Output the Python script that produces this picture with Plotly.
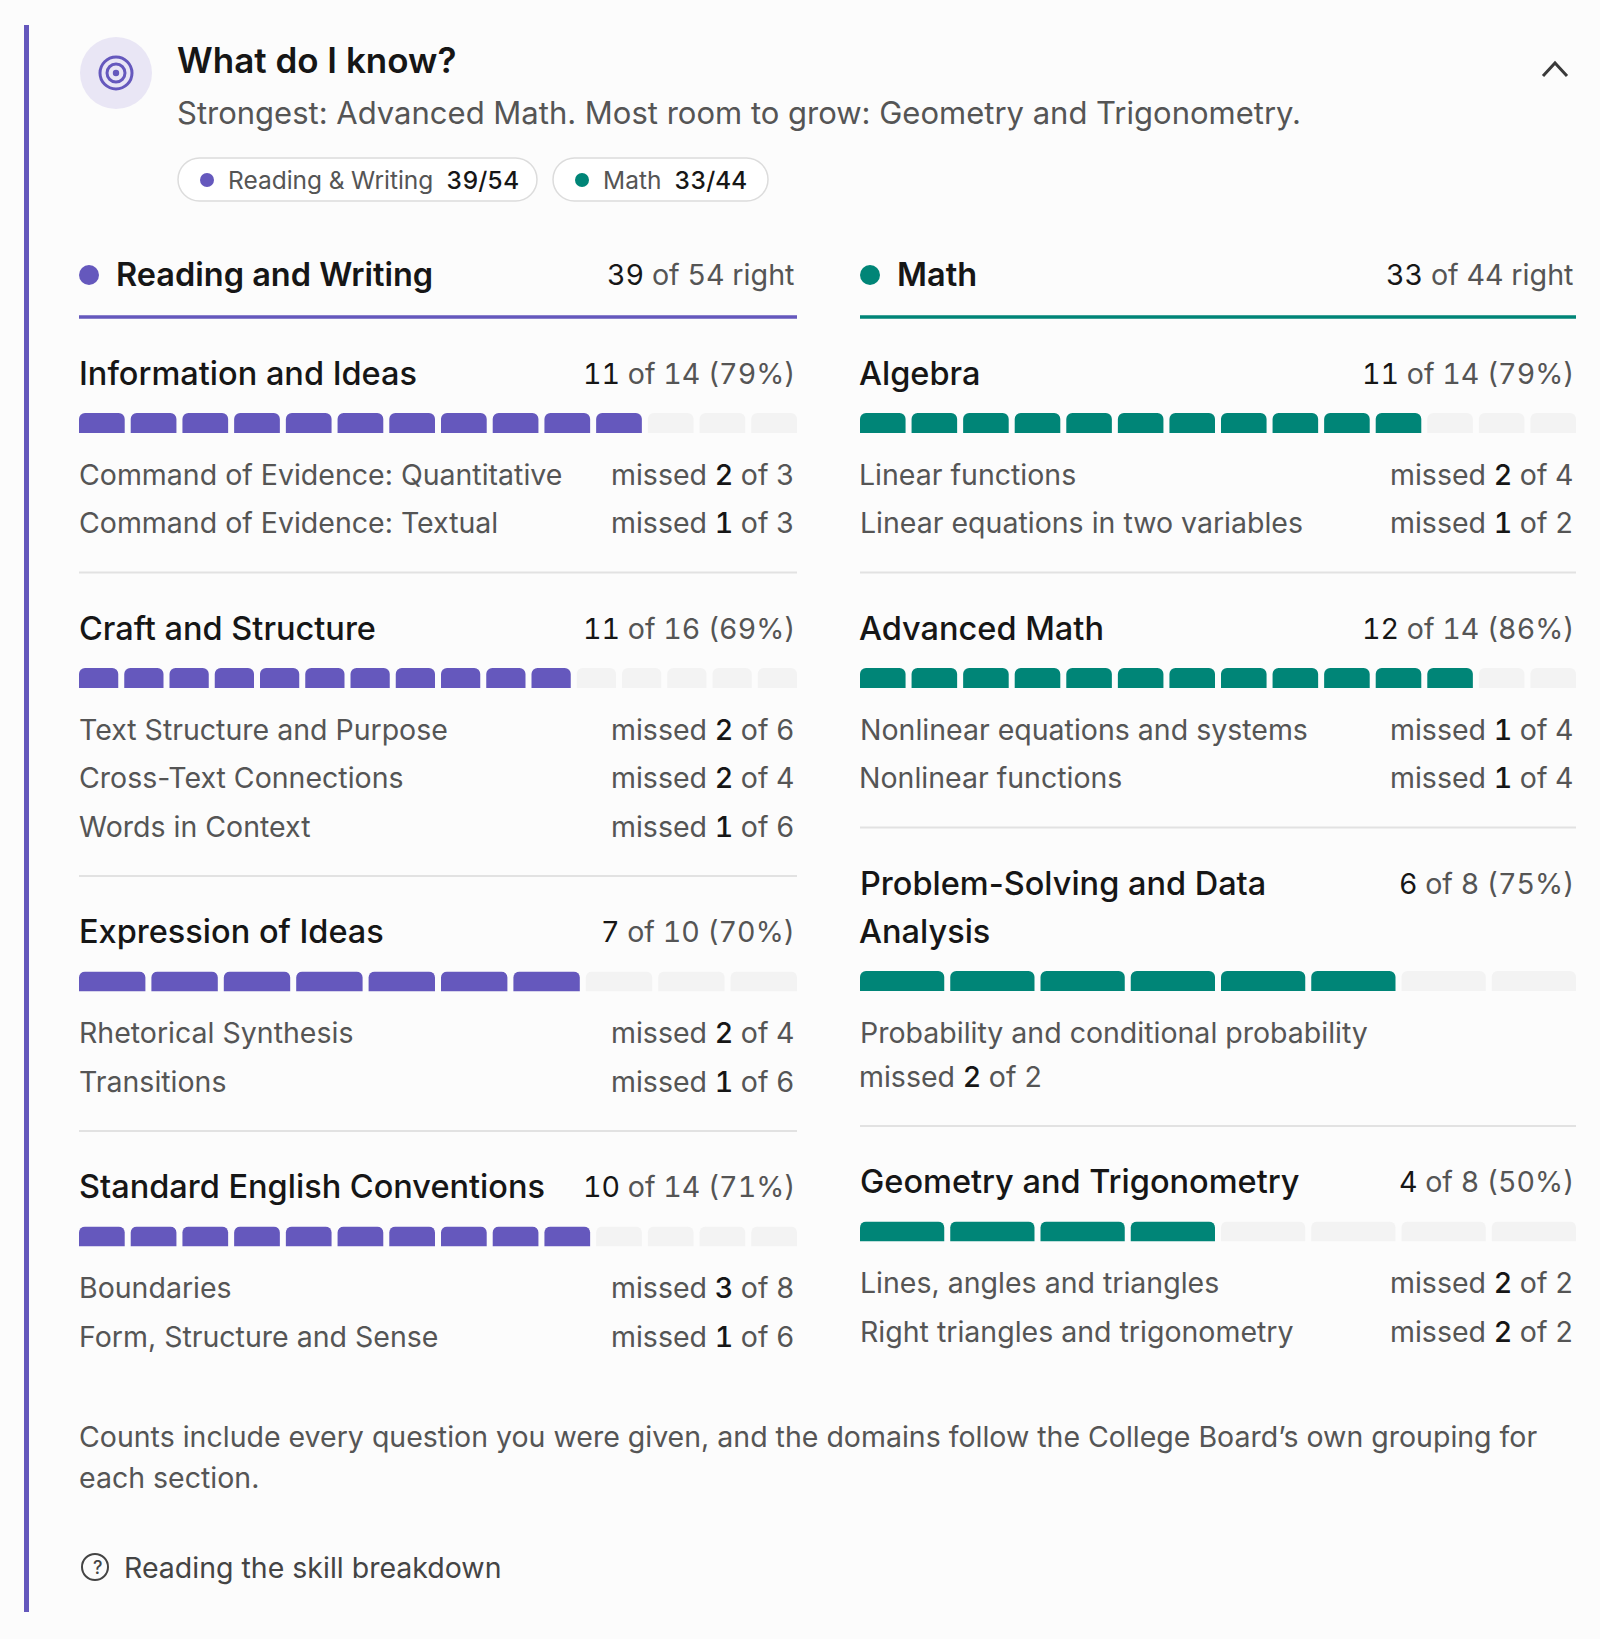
import textwrap
import plotly.graph_objects as go

W, H = 1600, 1639
FONT = "Inter, Noto Sans, sans-serif"

PURPLE = "#6558bd"
TEAL = "#008577"
EMPTY = "#f3f3f3"
INK = "#161616"
GREY = "#555555"
RULE = "#e2e2e2"
BG = "#fcfcfc"

# ---------------- data ----------------
section_names = ["Reading and Writing", "Math"]
pill_names = ["Reading & Writing", "Math"]
section_colors = [PURPLE, TEAL]

rw_domains = ["Information and Ideas", "Craft and Structure",
              "Expression of Ideas", "Standard English Conventions"]
rw_right = [11, 11, 7, 10]
rw_total = [14, 16, 10, 14]
rw_skills = [["Command of Evidence: Quantitative", "Command of Evidence: Textual"],
             ["Text Structure and Purpose", "Cross-Text Connections", "Words in Context"],
             ["Rhetorical Synthesis", "Transitions"],
             ["Boundaries", "Form, Structure and Sense"]]
rw_missed = [[2, 1], [2, 2, 1], [2, 1], [3, 1]]
rw_skill_total = [[3, 3], [6, 4, 6], [4, 6], [8, 6]]

math_domains = ["Algebra", "Advanced Math",
                "Problem-Solving and Data Analysis", "Geometry and Trigonometry"]
math_right = [11, 12, 6, 4]
math_total = [14, 14, 8, 8]
math_skills = [["Linear functions", "Linear equations in two variables"],
               ["Nonlinear equations and systems", "Nonlinear functions"],
               ["Probability and conditional probability"],
               ["Lines, angles and triangles", "Right triangles and trigonometry"]]
math_missed = [[2, 1], [1, 1], [2], [2, 2]]
math_skill_total = [[4, 2], [4, 4], [2], [2, 2]]

footnote_lines = ["Counts include every question you were given, and the domains follow the "
                  "College Board\u2019s own grouping for",
                  "each section."]
help_label = "Reading the skill breakdown"

# ---------------- layout constants ----------------
COLS = [(79, 797), (860, 1576)]
GAP = 6
BAR_H = 20
HEADER_Y = 275
HEADER_LINE_Y = 317
FIRST_TITLE_Y = 373
TITLE_LINE = 48
TITLE_TO_BAR = 50
BAR_TO_ITEM = 51
ITEM_STEP = 48.5
WRAP_STEP = 44
ITEM_TO_RULE = 50
RULE_TO_TITLE = 55.5

fig = go.Figure()


def px(x):
    return x / W


def py(y):
    return 1 - y / H


def txt(x, y, s, size, color=INK, anchor="left", weight=400):
    # nudge for annotation padding / side bearings
    if anchor == "left":
        x -= 2.5
    fig.add_annotation(x=px(x), y=py(y), xref="paper", yref="paper", text=s,
                       showarrow=False, xanchor=anchor, yanchor="middle", align=anchor,
                       font=dict(size=size, color=color, family=FONT, weight=weight))


def line(x0, y0, x1, y1, color, width):
    fig.add_shape(type="line", xref="paper", yref="paper", x0=px(x0), y0=py(y0),
                  x1=px(x1), y1=py(y1), line=dict(color=color, width=width))


def circle(cx, cy, r, fill=None, stroke=None, width=0):
    fig.add_shape(type="circle", xref="paper", yref="paper",
                  x0=px(cx - r), x1=px(cx + r), y0=py(cy + r), y1=py(cy - r),
                  fillcolor=fill or "rgba(0,0,0,0)",
                  line=dict(color=stroke or "rgba(0,0,0,0)", width=width))


def pill(x0, x1, y0, y1):
    r = (y1 - y0) / 2
    k = 0.5523 * r
    a, b, c, d = px(x0), px(x1), py(y0), py(y1)
    rx, ry = r / W, r / H
    kx, ky = k / W, k / H
    path = (f"M{a + rx},{c} L{b - rx},{c} "
            f"C{b - rx + kx},{c} {b},{c - ry + ky} {b},{c - ry} "
            f"C{b},{c - ry - ky} {b - rx + kx},{d} {b - rx},{d} "
            f"L{a + rx},{d} "
            f"C{a + rx - kx},{d} {a},{c - ry - ky} {a},{c - ry} "
            f"C{a},{c - ry + ky} {a + rx - kx},{c} {a + rx},{c} Z")
    fig.add_shape(type="path", xref="paper", yref="paper", path=path,
                  fillcolor="#ffffff", line=dict(color="#dcdcdc", width=1.5))


def tab(s):
    # numbers in this card use tabular figures
    return f"<span style='font-variant-numeric:tabular-nums'>{s}</span>"


def dark(v, weight=400):
    return f"<span style='color:{INK};font-weight:{weight}'>{v}</span>"


# ---------------- header ----------------
fig.add_shape(type="rect", xref="paper", yref="paper", x0=px(24), x1=px(29),
              y0=py(1612), y1=py(25), fillcolor=PURPLE, line=dict(width=0))
circle(116, 73, 36, fill="#e9e6f5")
circle(116, 73, 16, stroke=PURPLE, width=3)
circle(116, 73, 9, stroke=PURPLE, width=3)
circle(116, 73, 3.2, fill=PURPLE)
fig.add_shape(type="path", xref="paper", yref="paper",
              path=f"M{px(1543)},{py(76)} L{px(1555)},{py(63)} L{px(1567)},{py(76)}",
              line=dict(color="#3a3a3a", width=3))

all_domains = rw_domains + math_domains
all_right = rw_right + math_right
all_total = rw_total + math_total
pct = [r / t for r, t in zip(all_right, all_total)]
best = all_domains[pct.index(max(pct))]
worst = all_domains[pct.index(min(pct))]

txt(177.5, 60, "What do I know?", 35, INK, weight=600)
txt(177.5, 113, f"Strongest: {best}. Most room to grow: {worst}.", 31, GREY)

sec_right = [sum(rw_right), sum(math_right)]
sec_total = [sum(rw_total), sum(math_total)]

pill_x = [(178, 537), (553, 768)]
for i in range(2):
    x0, x1 = pill_x[i]
    pill(x0, x1, 158, 201)
    circle(x0 + 29, 180, 7, fill=section_colors[i])
    txt(x0 + 50, 180, tab(f"{pill_names[i]}&nbsp;&nbsp;"
                          f"{dark(f'{sec_right[i]}/{sec_total[i]}', 500)}"),
        24.5, GREY)

# ---------------- columns ----------------
columns = [
    (rw_domains, rw_right, rw_total, rw_skills, rw_missed, rw_skill_total),
    (math_domains, math_right, math_total, math_skills, math_missed, math_skill_total),
]

bar_axes = []
for ci, (names, right, total, skills, missed, stot) in enumerate(columns):
    x0, x1 = COLS[ci]
    color = section_colors[ci]

    circle(x0 + 10, HEADER_Y, 10, fill=color)
    txt(x0 + 37, HEADER_Y, section_names[ci], 32.5, INK, weight=600)
    txt(x1, HEADER_Y, tab(f"{dark(sec_right[ci])} of {sec_total[ci]} right"), 28.7, GREY, "right")
    line(x0, HEADER_LINE_Y, x1, HEADER_LINE_Y, color, 3.5)

    y = FIRST_TITLE_Y
    for di, name in enumerate(names):
        title_lines = textwrap.wrap(name, 28, break_on_hyphens=False)
        p = round(100 * right[di] / total[di])
        txt(x1, y, tab(f"{dark(right[di])} of {total[di]} ({p}%)"), 28.6, GREY, "right")
        for li, tl in enumerate(title_lines):
            txt(x0, y + li * TITLE_LINE, tl, 32.5, INK, weight=500)
        y += (len(title_lines) - 1) * TITLE_LINE

        ybar = y + TITLE_TO_BAR
        bar_axes.append((x0, x1, ybar, total[di], right[di], color))

        y = ybar + BAR_TO_ITEM
        for si, skill in enumerate(skills[di]):
            m = tab(f"missed {dark(missed[di][si], 500)} of {stot[di][si]}")
            txt(x0, y, skill, 28.5, GREY)
            if len(skill) > 35:
                y += WRAP_STEP
                txt(x0, y, m, 28.5, GREY)
            else:
                txt(x1, y, m, 28.5, GREY, "right")
            if si < len(skills[di]) - 1:
                y += ITEM_STEP
        if di < len(names) - 1:
            y += ITEM_TO_RULE
            line(x0, y, x1, y, RULE, 2)
            y += RULE_TO_TITLE

# segmented progress bars, one small axis pair per domain
for k, (x0, x1, ybar, n, r, color) in enumerate(bar_axes, start=2):
    pitch = (x1 - x0 + GAP) / n
    w = (pitch - GAP) / pitch
    fig.add_trace(go.Bar(
        x=list(range(n)), y=[1] * n, width=w,
        marker=dict(color=[color if i < r else EMPTY for i in range(n)],
                    line=dict(width=0), cornerradius=6),
        xaxis=f"x{k}", yaxis=f"y{k}", hoverinfo="skip", showlegend=False,
    ))
    fig.update_layout({
        f"xaxis{k}": dict(domain=[px(x0), px(x1)], range=[-w / 2, n - 1 + w / 2],
                          anchor=f"y{k}", visible=False, fixedrange=True),
        f"yaxis{k}": dict(domain=[py(ybar + BAR_H / 2), py(ybar - BAR_H / 2)],
                          range=[0, 1], anchor=f"x{k}", visible=False, fixedrange=True),
    })

# ---------------- footer ----------------
txt(79, 1436.5, footnote_lines[0], 28.5, GREY)
txt(79, 1477, footnote_lines[1], 28.5, GREY)
circle(95, 1567, 13, stroke="#444444", width=2)
txt(97.5, 1567, "?", 18, "#444444", "center", weight=500)
txt(124, 1567, help_label, 28.5, "#444444")

fig.update_layout(
    width=W, height=H,
    margin=dict(l=0, r=0, t=0, b=0),
    paper_bgcolor=BG, plot_bgcolor=BG,
    xaxis=dict(visible=False), yaxis=dict(visible=False),
    showlegend=False,
)

fig.write_html("out.html", config={"displayModeBar": False},
               post_script="document.body.style.margin='0';")
